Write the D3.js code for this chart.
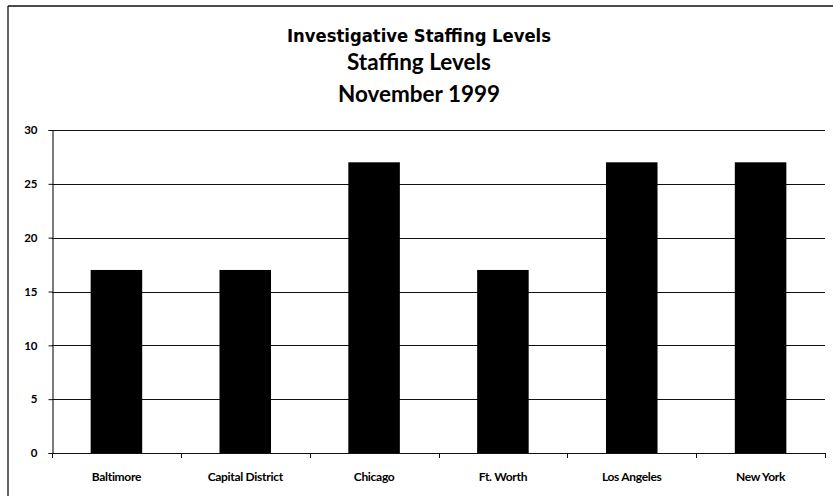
<!DOCTYPE html>
<html>
<head>
<meta charset="utf-8">
<script src="https://cdn.jsdelivr.net/npm/d3@7"></script>
<style>
  html, body { margin: 0; padding: 0; background: #fff; }
  svg { display: block; }
</style>
</head>
<body>
<svg id="chart" width="833" height="496"></svg>
<script>
// Staffing levels by field office
const offices = ["Baltimore", "Capital District", "Chicago", "Ft. Worth", "Los Angeles", "New York"];
const staff = [17, 17, 27, 17, 27, 27];
const yTicks = [0, 5, 10, 15, 20, 25, 30];
const titleLines = ["Investigative Staffing Levels", "Staffing Levels", "November 1999"];

const svg = d3.select("#chart");
const W = 833, H = 496;
const plot = { left: 52, right: 825, top: 130, bottom: 453 };

// frame of the chart sheet (top and left edges)
svg.append("line").attr("x1", 8).attr("x2", W).attr("y1", 6).attr("y2", 6)
  .attr("stroke", "#111").attr("stroke-width", 1.3);
svg.append("line").attr("x1", 8).attr("x2", 8).attr("y1", 6).attr("y2", H)
  .attr("stroke", "#111").attr("stroke-width", 1.3);

// titles
const titleSpec = [
  { y: 42, size: 18, family: "'DejaVu Sans', Verdana, sans-serif", weight: 700, len: 264 },
  { y: 70, size: 22, family: "Lato, 'Open Sans', sans-serif", weight: 700, len: 144 },
  { y: 102, size: 22, family: "Lato, 'Open Sans', sans-serif", weight: 700, len: 162 }
];
svg.append("g").selectAll("text").data(titleLines).join("text")
  .attr("x", 419)
  .attr("y", (d, i) => titleSpec[i].y)
  .attr("text-anchor", "middle")
  .attr("font-family", (d, i) => titleSpec[i].family)
  .attr("font-weight", (d, i) => titleSpec[i].weight)
  .attr("font-size", (d, i) => titleSpec[i].size)
  .attr("textLength", (d, i) => titleSpec[i].len)
  .attr("lengthAdjust", "spacingAndGlyphs")
  .attr("fill", "#000")
  .text(d => d);

const x = d3.scaleBand().domain(offices).range([plot.left, plot.right]).paddingInner(0.6).paddingOuter(0.3);
const y = d3.scaleLinear().domain([0, 30]).range([plot.bottom, plot.top]);

// horizontal gridlines
svg.append("g")
  .selectAll("line").data(yTicks.filter(t => t > 0)).join("line")
  .attr("x1", plot.left).attr("x2", plot.right)
  .attr("y1", d => Math.round(y(d)) + 0.5).attr("y2", d => Math.round(y(d)) + 0.5)
  .attr("stroke", "#111").attr("stroke-width", 1.1);

// bars
svg.append("g")
  .selectAll("rect").data(offices).join("rect")
  .attr("x", d => x(d))
  .attr("width", x.bandwidth())
  .attr("y", (d, i) => y(staff[i]))
  .attr("height", (d, i) => y(0) - y(staff[i]))
  .attr("fill", "#000");

// value axis
const yAxis = svg.append("g")
  .attr("transform", `translate(${plot.left + 0.5},0)`)
  .call(d3.axisLeft(y).tickValues(yTicks).tickSize(4).tickPadding(11));
yAxis.select(".domain").attr("stroke", "#111").attr("stroke-width", 1.1);
yAxis.selectAll(".tick line").attr("stroke", "#111");
yAxis.selectAll(".tick text")
  .attr("font-family", "Lato, 'Open Sans', sans-serif")
  .attr("font-weight", 700)
  .attr("font-size", 11.5)
  .attr("fill", "#000");

// category axis with ticks between categories
const bounds = d3.range(offices.length + 1).map(i => plot.left + i * (plot.right - plot.left) / offices.length);
svg.append("line")
  .attr("x1", plot.left).attr("x2", plot.right)
  .attr("y1", plot.bottom + 0.5).attr("y2", plot.bottom + 0.5)
  .attr("stroke", "#111").attr("stroke-width", 1.1);
svg.append("g").selectAll("line").data(bounds).join("line")
  .attr("x1", d => Math.round(d) + 0.5).attr("x2", d => Math.round(d) + 0.5)
  .attr("y1", plot.bottom).attr("y2", plot.bottom + 5)
  .attr("stroke", "#111");
svg.append("g").selectAll("text").data(offices).join("text")
  .attr("x", d => x(d) + x.bandwidth() / 2)
  .attr("y", 481)
  .attr("text-anchor", "middle")
  .attr("font-family", "Lato, 'Open Sans', sans-serif")
  .attr("font-weight", 700)
  .attr("font-size", 12)
  .attr("letter-spacing", -0.3)
  .attr("fill", "#000")
  .text(d => d);
</script>
</body>
</html>
